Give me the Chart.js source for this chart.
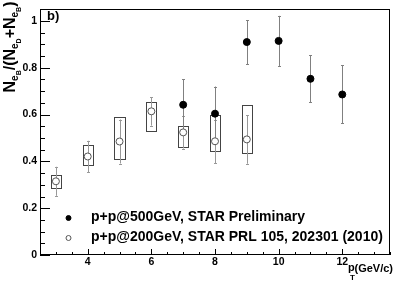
<!DOCTYPE html>
<html>
<head>
<meta charset="utf-8">
<script src="https://cdn.jsdelivr.net/npm/chart.js@4.4.1/dist/chart.umd.min.js"></script>
<style>
html, body { margin: 0; padding: 0; background: #fff; }
#wrap { width: 395px; height: 284px; }
</style>
</head>
<body>
<div id="wrap"><canvas id="myChart" width="395" height="284"></canvas></div>
<script>
// p+p@500GeV, STAR Preliminary
let pt_500 = [7, 8, 9, 10, 11, 12];
let ratio_500 = [0.642, 0.604, 0.910, 0.915, 0.753, 0.686];
let err_500 = [0.109, 0.116, 0.094, 0.107, 0.100, 0.124];

// p+p@200GeV, STAR PRL 105, 202301 (2010)
let pt_200 = [3, 4, 5, 6, 7, 8, 9];
let ratio_200 = [0.315, 0.421, 0.485, 0.614, 0.524, 0.486, 0.494];
let stat_200 = [0.062, 0.067, 0.094, 0.061, 0.069, 0.093, 0.104];
let sys_low_200 = [0.288, 0.385, 0.410, 0.530, 0.461, 0.446, 0.436];
let sys_high_200 = [0.340, 0.472, 0.589, 0.653, 0.553, 0.600, 0.642];

let x_ticks = [4, 6, 8, 10, 12];
let y_ticks = [0, 0.2, 0.4, 0.6, 0.8, 1];

let label_500 = 'p+p@500GeV, STAR Preliminary';
let label_200 = 'p+p@200GeV, STAR PRL 105, 202301 (2010)';

const FONT = '"Liberation Sans", Arial, Helvetica, sans-serif';

function toPoints(xs, ys) {
  return xs.map((x, i) => ({ x: x, y: ys[i] }));
}

// frame + ROOT style ticks pointing inwards
const framePlugin = {
  id: 'frame',
  afterDraw(chart) {
    const ctx = chart.ctx;
    const a = chart.chartArea;
    const xs = chart.scales.x, ys = chart.scales.y;
    ctx.save();
    ctx.strokeStyle = '#000';
    ctx.lineWidth = 1;
    ctx.strokeRect(Math.round(a.left) + 0.5, Math.round(a.top) + 0.5,
      Math.round(a.right - a.left) - 1, Math.round(a.bottom - a.top) - 1);
    ctx.beginPath();
    for (let v = 0; v <= 1.05 + 1e-9; v += 0.05) {
      const y = Math.round(ys.getPixelForValue(v)) + 0.5;
      const major = Math.abs(v / 0.2 - Math.round(v / 0.2)) < 1e-6;
      ctx.moveTo(a.left, y);
      ctx.lineTo(a.left + (major ? 10 : 5), y);
    }
    for (let v = 3; v <= 13.5 + 1e-9; v += 0.5) {
      const x = Math.round(xs.getPixelForValue(v)) + 0.5;
      const major = Math.abs(v / 2 - Math.round(v / 2)) < 1e-6;
      ctx.moveTo(x, a.bottom);
      ctx.lineTo(x, a.bottom - (major ? 6 : 3));
    }
    ctx.stroke();
    ctx.restore();
  }
};

// stat error bars and systematic boxes
const errorPlugin = {
  id: 'errors',
  beforeDatasetsDraw(chart) {
    const ctx = chart.ctx;
    const xs = chart.scales.x, ys = chart.scales.y;
    const halfBox = 0.16;
    ctx.save();
    ctx.lineWidth = 1;

    // boxes
    ctx.strokeStyle = '#444';
    pt_200.forEach((x, i) => {
      const l = Math.round(xs.getPixelForValue(x - halfBox)) + 0.5;
      const r = Math.round(xs.getPixelForValue(x + halfBox)) + 0.5;
      const t = Math.round(ys.getPixelForValue(sys_high_200[i])) + 0.5;
      const b = Math.round(ys.getPixelForValue(sys_low_200[i])) + 0.5;
      ctx.strokeRect(l, t, r - l, b - t);
    });

    function bars(xv, yv, ev, color) {
      ctx.strokeStyle = color;
      ctx.beginPath();
      xv.forEach((x, i) => {
        const px = Math.round(xs.getPixelForValue(x)) + 0.5;
        const t = ys.getPixelForValue(yv[i] + ev[i]);
        const b = ys.getPixelForValue(yv[i] - ev[i]);
        ctx.moveTo(px, t); ctx.lineTo(px, b);
        ctx.moveTo(px - 1.5, Math.round(t) + 0.5); ctx.lineTo(px + 1.5, Math.round(t) + 0.5);
        ctx.moveTo(px - 1.5, Math.round(b) + 0.5); ctx.lineTo(px + 1.5, Math.round(b) + 0.5);
      });
      ctx.stroke();
    }
    bars(pt_200, ratio_200, stat_200, '#999');
    bars(pt_500, ratio_500, err_500, '#808080');
    ctx.restore();
  }
};

function richText(ctx, parts) {
  let w = 0;
  parts.forEach(p => {
    ctx.font = 'bold ' + p[1] + 'px ' + FONT;
    w += ctx.measureText(p[0]).width;
  });
  return w;
}

function drawRich(ctx, parts, x0, y0) {
  let x = x0;
  parts.forEach(p => {
    ctx.font = 'bold ' + p[1] + 'px ' + FONT;
    ctx.fillText(p[0], x, y0 + p[2]);
    x += ctx.measureText(p[0]).width;
  });
}

// titles, panel label, legend
const textPlugin = {
  id: 'texts',
  afterDraw(chart) {
    const ctx = chart.ctx;
    ctx.save();
    ctx.fillStyle = '#000';
    ctx.textBaseline = 'alphabetic';
    ctx.textAlign = 'left';

    // y title
    const yt = [
      ['N', 16, 0], ['e', 10, 3], ['B', 7, 6],
      ['/(', 16, 0], ['N', 16, 0], ['e', 10, 3], ['D', 7, 6],
      ['+', 16, 0], ['N', 16, 0], ['e', 10, 3], ['B', 7, 6],
      [')', 16, 0]
    ];
    const w = richText(ctx, yt);
    ctx.save();
    ctx.translate(15, 47);
    ctx.rotate(-Math.PI / 2);
    drawRich(ctx, yt, -w / 2, 0);
    ctx.restore();

    // x title
    ctx.font = 'bold 11px ' + FONT;
    ctx.fillText('p', 348, 271);
    ctx.font = 'bold 8px ' + FONT;
    ctx.fillText('T', 350, 280);
    ctx.font = 'bold 11px ' + FONT;
    ctx.textAlign = 'right';
    ctx.fillText('(GeV/c)', 393, 272);
    ctx.textAlign = 'left';

    // panel label
    ctx.font = 'bold 13px ' + FONT;
    ctx.fillText('b)', 47, 20);

    // legend
    const ds = chart.data.datasets;
    const rows = [217, 237];
    ds.forEach((d, i) => {
      ctx.beginPath();
      ctx.arc(68.5, rows[i] + 1, 2.5, 0, Math.PI * 2);
      ctx.fillStyle = d.backgroundColor;
      ctx.fill();
      ctx.strokeStyle = d.borderColor;
      ctx.lineWidth = 1;
      ctx.stroke();
      ctx.fillStyle = '#000';
      ctx.font = 'bold 14px ' + FONT;
      ctx.fillText(d.label, 91, rows[i] + 4);
    });
    ctx.restore();
  }
};

let myChart = document.getElementById('myChart').getContext('2d');
let scatter_chart = new Chart(myChart, {
  type: 'scatter',
  data: {
    datasets: [
      {
        label: label_500,
        data: toPoints(pt_500, ratio_500),
        backgroundColor: '#000',
        borderColor: '#000',
        borderWidth: 1,
        pointRadius: 3.5
      },
      {
        label: label_200,
        data: toPoints(pt_200, ratio_200),
        backgroundColor: '#fff',
        borderColor: '#555',
        borderWidth: 1,
        pointRadius: 3.5
      }
    ]
  },
  options: {
    responsive: false,
    animation: false,
    events: [],
    layout: { padding: { top: 3, right: 2, left: 0, bottom: 0 } },
    plugins: {
      legend: { display: false },
      tooltip: { enabled: false }
    },
    scales: {
      x: {
        type: 'linear',
        min: 2.5,
        max: 13.5,
        grid: { display: false, drawTicks: false },
        border: { display: false },
        afterBuildTicks: axis => { axis.ticks = x_ticks.map(v => ({ value: v })); },
        afterFit: axis => { axis.height = 29; },
        ticks: {
          padding: 1,
          color: '#000',
          maxRotation: 0,
          font: { family: FONT, weight: 'bold', size: 10.5 },
          callback: v => String(v)
        }
      },
      y: {
        type: 'linear',
        min: 0,
        max: 1.05,
        grid: { display: false, drawTicks: false },
        border: { display: false },
        afterBuildTicks: axis => { axis.ticks = y_ticks.map(v => ({ value: v })); },
        afterFit: axis => { axis.width = 40; },
        ticks: {
          padding: 3,
          color: '#000',
          font: { family: FONT, weight: 'bold', size: 10.5 },
          callback: v => String(v)
        }
      }
    }
  },
  plugins: [errorPlugin, framePlugin, textPlugin]
});
</script>
</body>
</html>
